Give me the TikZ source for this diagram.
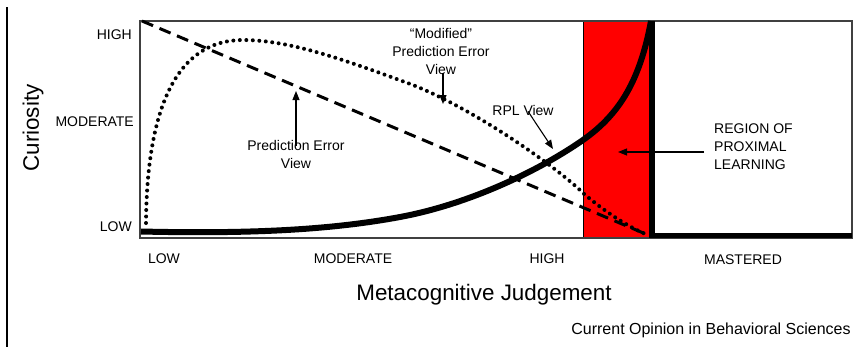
\documentclass[tikz,border=0pt]{standalone}
\usepackage{fontspec}
\setmainfont{Liberation Sans}
\usetikzlibrary{arrows.meta}
\begin{document}
\begin{tikzpicture}[x=1pt,y=-1pt,
  lbl/.style={font=\fontsize{14}{17}\selectfont, inner sep=0pt},
  ann/.style={font=\fontsize{14}{18}\selectfont, align=center, inner sep=0pt},
  big/.style={font=\fontsize{22.4}{26}\selectfont, inner sep=0pt},
  arr/.style={-{Triangle[length=9pt,width=7pt]}, line width=1.1pt},
  dotcurve/.style={line width=4pt, line cap=round, dash pattern=on 0pt off 6.5pt},
  dashline/.style={line width=3pt, dash pattern=on 12pt off 7pt},
]
\useasboundingbox (0,0) rectangle (868,349);
% left rule
\draw[line width=1.2pt] (7,7) -- (7,347);
% red region
\fill[red] (583,21) rectangle (651,238);
\draw[line width=0.8pt] (583,21) -- (583,238);
% plot frame
\draw[line width=1.3pt, black!75] (140,21) rectangle (852,238);
% mastered boundary
\draw[line width=6pt] (651.5,21) -- (651.5,238);
\draw[line width=5pt] (649,235.5) -- (852,235.5);
% prediction error view (dashed)
\draw[dashline] (142,21) -- (648,235);
% modified prediction error view (dotted)
\draw[dotcurve] (146,223) .. controls (147,105) and (178,40) .. (243,40)
  .. controls (290,40) and (345,60) .. (413,85)
  .. controls (480,112) and (560,170) .. (583,193)
  .. controls (605,212) and (630,228) .. (648,235);
% RPL view (solid)
\draw[line width=6pt] (141,231.5) .. controls (250,234) and (330,230) .. (400,217)
  .. controls (470,204) and (540,170) .. (583,140)
  .. controls (620,114) and (640,80) .. (651,21);
% axis labels
\node[lbl, anchor=east] (yhigh) at (132,35) {HIGH};
\node[lbl, anchor=east] (ymod) at (134,122) {MODERATE};
\node[lbl, anchor=east] (ylow) at (132,227) {LOW};
\node[big, rotate=90] (ytitle) at (33,128) {Curiosity};
\node[lbl] (xlow) at (164,259) {LOW};
\node[lbl] (xmod) at (353,259) {MODERATE};
\node[lbl] (xhigh) at (547,259) {HIGH};
\node[lbl] (xmast) at (743,260) {MASTERED};
\node[big] (xtitle) at (484,295) {Metacognitive Judgement};
\node[font=\fontsize{16}{19}\selectfont, inner sep=0pt] (credit) at (711,330) {Current Opinion in Behavioral Sciences};
% annotations
\node[ann] (mpe) at (441,51) {“Modified”\\Prediction Error\\View};
\coordinate (mpetip) at (443,104);
\draw[arr] ([xshift=2pt,yshift=1pt]mpe.south) -- (mpetip);
\node[ann] (pe) at (296,154) {Prediction Error\\View};
\coordinate (petip) at (296,91);
\draw[arr] ([yshift=-6pt]pe.north) -- (petip);
\node[ann] (rpl) at (523,110) {RPL View};
\coordinate (rpltip) at (553,149);
\draw[arr] ([xshift=5pt,yshift=4pt]rpl.south) -- (rpltip);
\node[ann, align=left, anchor=west] (rzl) at (714,147) {REGION OF\\PROXIMAL\\LEARNING};
\coordinate (rzltip) at (618,152);
\draw[arr] ([xshift=-10pt,yshift=-5pt]rzl.west) -- (rzltip);
\end{tikzpicture}
\end{document}
